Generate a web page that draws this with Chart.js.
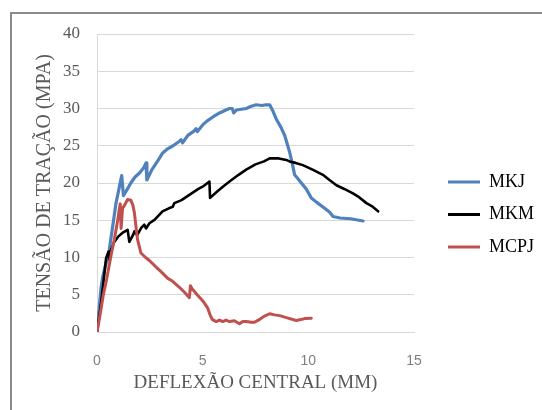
<!DOCTYPE html>
<html>
<head>
<meta charset="utf-8">
<script src="https://cdn.jsdelivr.net/npm/chart.js@4.4.1/dist/chart.umd.min.js"></script>
<style>
  html, body { margin: 0; padding: 0; background: #ffffff; }
  #wrap { position: relative; width: 542px; height: 410px; overflow: hidden; }
  #frame { position: absolute; left: 10px; top: 12px; width: 600px; height: 500px; border: 2px solid #8a8a8a; box-sizing: border-box; }
  #c { position: absolute; left: 0; top: 0; }
</style>
</head>
<body>
<div id="wrap">
  <div id="frame"></div>
  <canvas id="c" width="542" height="410"></canvas>
</div>
<script>
// ---- data ----
const seriesNames = ["MKJ", "MKM", "MCPJ"];

const mkjX = [0, 0.19, 0.27, 0.58, 0.9, 1.17, 1.25, 1.4, 1.6, 1.8, 2.0, 2.2, 2.32, 2.36, 2.6, 2.95, 3.1, 3.3, 3.6, 3.9, 3.98, 4.05, 4.3, 4.6, 4.69, 4.75, 5.0, 5.2, 5.5, 5.8, 6.1, 6.27, 6.4, 6.47, 6.6, 7.06, 7.3, 7.53, 7.8, 8.0, 8.17, 8.3, 8.48, 8.7, 8.88, 9.11, 9.25, 9.35, 9.5, 9.67, 9.9, 10.14, 10.4, 10.77, 11.0, 11.17, 11.5, 12.0, 12.59];
const mkjY = [0, 5.9, 7.4, 11.0, 17.3, 21.0, 18.3, 19.0, 20.0, 20.8, 21.3, 22.0, 22.7, 20.4, 21.8, 23.3, 24.0, 24.5, 25.0, 25.6, 25.8, 25.4, 26.4, 27.0, 27.3, 26.9, 27.8, 28.3, 28.9, 29.4, 29.8, 30.0, 30.0, 29.4, 29.8, 30.0, 30.3, 30.5, 30.4, 30.5, 30.5, 29.8, 28.6, 27.5, 26.4, 24.2, 22.5, 21.1, 20.6, 20.0, 19.2, 18.0, 17.4, 16.6, 16.1, 15.5, 15.3, 15.2, 14.9];

const mkmX = [0, 0.2, 0.43, 0.55, 0.6, 0.65, 0.8, 1.0, 1.2, 1.45, 1.53, 1.7, 1.77, 1.9, 2.1, 2.24, 2.32, 2.48, 2.72, 2.9, 3.1, 3.4, 3.58, 3.66, 4.0, 4.37, 4.8, 5.0, 5.32, 5.35, 5.7, 6.0, 6.27, 6.7, 7.06, 7.5, 7.9, 8.17, 8.32, 8.6, 8.96, 9.11, 9.4, 9.74, 10.2, 10.69, 11.0, 11.33, 11.7, 12.11, 12.4, 12.75, 13.0, 13.3];
const mkmY = [0, 4.0, 9.9, 10.8, 9.6, 10.9, 12.0, 12.8, 13.3, 13.7, 12.1, 13.0, 13.5, 13.0, 14.0, 14.4, 13.9, 14.6, 15.05, 15.6, 16.2, 16.6, 16.8, 17.3, 17.7, 18.4, 19.2, 19.5, 20.2, 18.0, 18.9, 19.6, 20.2, 21.1, 21.8, 22.5, 22.9, 23.3, 23.3, 23.3, 23.1, 22.9, 22.7, 22.4, 21.8, 21.1, 20.4, 19.7, 19.2, 18.6, 18.1, 17.3, 16.9, 16.2];

const mcpjX = [0, 0.15, 0.3, 0.45, 0.58, 0.7, 0.82, 0.98, 1.05, 1.1, 1.14, 1.21, 1.3, 1.45, 1.6, 1.7, 1.77, 1.85, 1.92, 2.08, 2.3, 2.48, 2.8, 3.1, 3.35, 3.58, 3.9, 4.15, 4.37, 4.42, 4.5, 4.77, 5.0, 5.24, 5.35, 5.45, 5.64, 5.8, 5.95, 6.1, 6.27, 6.5, 6.74, 6.9, 7.06, 7.3, 7.45, 7.7, 7.9, 8.17, 8.4, 8.64, 9.0, 9.43, 9.7, 9.82, 10.14];
const mcpjY = [0, 2.4, 5.0, 7.0, 9.0, 10.8, 12.4, 15.0, 16.4, 17.2, 13.9, 16.6, 17.0, 17.8, 17.7, 17.0, 16.0, 14.0, 12.4, 10.6, 10.0, 9.6, 8.7, 7.9, 7.2, 6.8, 6.0, 5.3, 4.6, 6.2, 5.8, 4.9, 4.2, 3.2, 2.3, 1.7, 1.4, 1.6, 1.4, 1.6, 1.4, 1.5, 1.1, 1.4, 1.4, 1.3, 1.3, 1.7, 2.1, 2.45, 2.3, 2.2, 1.9, 1.55, 1.7, 1.8, 1.85];

const seriesColors = ["#4f81bd", "#000000", "#c0504d"];

const xTitle = "DEFLEXÃO CENTRAL (MM)";
const yTitle = "TENSÃO DE TRAÇÃO (MPA)";

function pts(xs, ys) { return xs.map((x, i) => ({ x: x, y: ys[i] })); }

const datasets = [
  { label: seriesNames[0], data: pts(mkjX, mkjY), borderColor: seriesColors[0], backgroundColor: seriesColors[0], borderWidth: 3.2, order: 2 },
  { label: seriesNames[1], data: pts(mkmX, mkmY), borderColor: seriesColors[1], backgroundColor: seriesColors[1], borderWidth: 2.6, order: 1 },
  { label: seriesNames[2], data: pts(mcpjX, mcpjY), borderColor: seriesColors[2], backgroundColor: seriesColors[2], borderWidth: 3.0, order: 0 }
].map(d => Object.assign(d, { pointRadius: 0, pointHoverRadius: 0, tension: 0, fill: false, borderJoinStyle: 'round', borderCapStyle: 'round' }));

const serif = "'Liberation Serif', 'Times New Roman', serif";

// legend box: fixed width (so the plot ends where the reference's does) and a gap to the plot
const legendLayout = {
  id: 'legendLayout',
  afterInit(chart) {
    const lg = chart.legend;
    const origFit = lg.fit;
    lg.fit = function () { origFit.apply(this, arguments); this.width = 128; };
  },
  afterLayout(chart) {
    const lg = chart.legend;
    const dx = chart.chartArea.right + 34 - (lg.left + lg.options.labels.padding);
    lg.left += dx; lg.right += dx;
  }
};

new Chart(document.getElementById('c'), {
  type: 'line',
  data: { datasets: datasets },
  plugins: [legendLayout],
  options: {
    responsive: false,
    animation: false,
    devicePixelRatio: 1,
    layout: { padding: { top: 34, bottom: 15, left: 0, right: 0 } },
    plugins: {
      tooltip: { enabled: false },
      legend: {
        position: 'right',
        align: 'center',
        labels: {
          boxWidth: 32,
          boxHeight: 3,
          padding: 14.5,
          color: '#000000',
          font: { family: serif, size: 18 },
          sort: (a, b) => a.datasetIndex - b.datasetIndex,
          generateLabels: (chart) => Chart.defaults.plugins.legend.labels.generateLabels(chart).map(l => Object.assign(l, { fillStyle: l.strokeStyle, lineWidth: 0 }))
        }
      }
    },
    scales: {
      x: {
        type: 'linear',
        min: 0, max: 15,
        ticks: { stepSize: 5, color: '#7f7f7f', padding: 13, font: { family: "'Liberation Sans', Arial, sans-serif", size: 14 } },
        grid: { display: false },
        border: { display: true, color: '#d9d9d9', width: 1 },
        title: { display: true, text: xTitle, color: '#595959', font: { family: serif, size: 19 }, padding: { top: 0, bottom: 1 } },
        afterFit: (s) => { s.height = 63; }
      },
      y: {
        type: 'linear',
        min: 0, max: 40,
        ticks: { stepSize: 5, color: '#595959', padding: 17, font: { family: serif, size: 17 } },
        grid: { color: '#d9d9d9', lineWidth: 1, drawTicks: false },
        border: { display: true, color: '#d9d9d9', width: 1 },
        title: { display: true, text: yTitle, color: '#595959', font: { family: serif, size: 20 }, padding: { top: 33, bottom: 0 } },
        afterFit: (s) => { s.width = 97; }
      }
    }
  }
});
</script>
</body>
</html>
